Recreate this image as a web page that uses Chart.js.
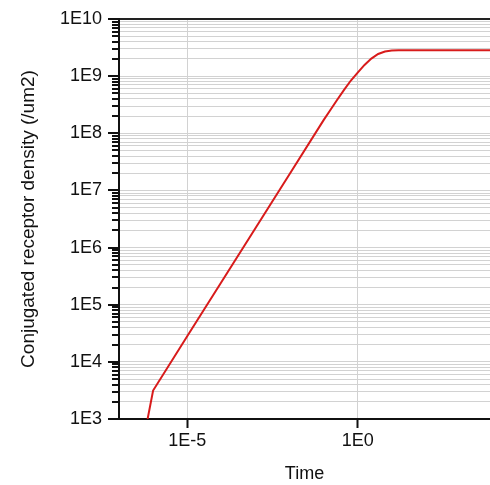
<!DOCTYPE html>
<html><head><meta charset="utf-8">
<script src="https://cdn.jsdelivr.net/npm/chart.js@4/dist/chart.umd.min.js"></script>
<style>html,body{margin:0;padding:0;background:#fff}#wrap{width:490px;height:485px}</style>
</head><body><div id="wrap"><canvas id="c" width="490" height="485"></canvas></div>
<script>
// Time points (x)
const timeValues = [6.9e-7, 1e-6, 1e-5, 1e-4, 1e-3, 1e-2, 1e-1, 0.158, 0.251, 0.398, 0.631, 1, 1.585, 2.512, 3.981, 6.31, 10, 15.85, 100, 1000, 7600];
// Conjugated receptor density (y)
const densityValues = [1000, 3150, 2.8e4, 2.47e5, 2.18e6, 1.92e7, 1.70e8, 2.56e8, 3.86e8, 5.74e8, 8.38e8, 1.15e9, 1.57e9, 2.03e9, 2.44e9, 2.70e9, 2.82e9, 2.85e9, 2.85e9, 2.85e9, 2.85e9];
// Axis ticks
const xTickValues = [1e-5, 1];
const yDecades = [3, 4, 5, 6, 7, 8, 9, 10];
const xRange = [1e-7, 7586];
const xTitle = 'Time';
const yTitle = 'Conjugated receptor density (/um2)';

const yTickValues = [];
yDecades.forEach((d, i) => {
  if (i === yDecades.length - 1) { yTickValues.push(Math.pow(10, d)); return; }
  for (let m = 1; m <= 9; m++) yTickValues.push(m * Math.pow(10, d));
});
const isMajor = v => Math.abs(Math.log10(v) - Math.round(Math.log10(v))) < 1e-9;
const fmt = v => '1E' + Math.round(Math.log10(v));

const FONT = {family: '"Liberation Sans", Arial, sans-serif', size: 18};
const GRID = '#d2d2d2';

// draws the y-axis tick marks (long for decades, short for minor values) through the scale
const yTickMarks = {
  id: 'yTickMarks',
  afterDraw(chart) {
    const s = chart.scales.y, ctx = chart.ctx, left = chart.chartArea.left;
    ctx.save();
    ctx.strokeStyle = '#111';
    ctx.lineWidth = 2;
    s.ticks.forEach(t => {
      const py = Math.round(s.getPixelForValue(t.value));
      const len = isMajor(t.value) ? 11 : 7;
      ctx.beginPath();
      ctx.moveTo(left - 1, py);
      ctx.lineTo(left - len, py);
      ctx.stroke();
    });
    ctx.restore();
  }
};

new Chart(document.getElementById('c'), {
  type: 'line',
  data: {
    datasets: [{
      data: timeValues.map((t, i) => ({x: t, y: densityValues[i]})),
      borderColor: '#d81b1b',
      borderWidth: 2,
      pointRadius: 0,
      tension: 0,
      fill: false
    }]
  },
  plugins: [yTickMarks],
  options: {
    responsive: false,
    animation: false,
    devicePixelRatio: 1,
    layout: {padding: {top: 19, right: 0, left: 0, bottom: 0}},
    plugins: {legend: {display: false}, tooltip: {enabled: false}},
    scales: {
      x: {
        type: 'logarithmic', position: 'bottom',
        min: xRange[0], max: xRange[1],
        afterBuildTicks: s => { s.ticks = xTickValues.map(v => ({value: v, major: true})); },
        afterFit: s => { s.height = 66; },
        ticks: {autoSkip: false, maxRotation: 0, color: '#111', font: FONT, padding: 2,
                callback: v => fmt(v)},
        grid: {color: GRID, borderDash: [4, 3], lineWidth: 1, drawTicks: true, tickLength: 9,
               tickColor: '#111', tickWidth: 2},
        border: {display: true, color: '#111', width: 2},
        title: {display: true, text: xTitle, color: '#111', font: FONT, padding: {top: 0, bottom: 0}}
      },
      x2: {
        type: 'logarithmic', position: 'top',
        min: xRange[0], max: xRange[1],
        afterFit: s => { s.height = 0; },
        ticks: {display: false},
        grid: {display: false, drawTicks: false},
        border: {display: true, color: '#222', width: 2}
      },
      y: {
        type: 'logarithmic', position: 'left',
        min: 1e3, max: 1e10,
        afterBuildTicks: s => { s.ticks = yTickValues.map(v => ({value: v, major: isMajor(v)})); },
        afterFit: s => { s.width = 119; },
        ticks: {autoSkip: false, color: '#111', font: FONT, padding: 6,
                callback: v => isMajor(v) ? fmt(v) : ''},
        grid: {color: GRID, borderDash: [4, 3], lineWidth: 1, drawTicks: true, tickLength: 11,
               tickColor: 'rgba(0,0,0,0)'},
        border: {display: true, color: '#111', width: 2},
        title: {display: true, text: yTitle, color: '#111', font: {family: FONT.family, size: 19}, padding: {top: 17, bottom: 0}}
      }
    }
  }
});
</script></body></html>
